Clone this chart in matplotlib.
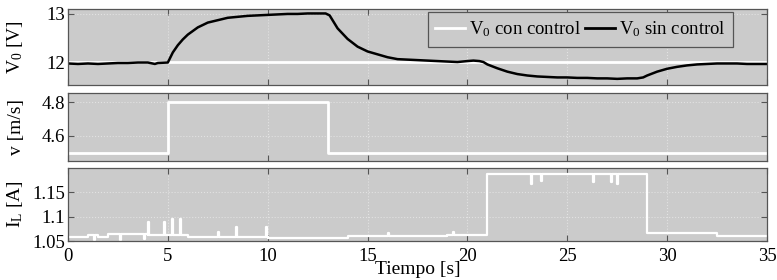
import numpy as np
import matplotlib.pyplot as plt
from matplotlib.lines import Line2D

plt.rcParams['font.family'] = ['Liberation Serif', 'DejaVu Serif']
plt.rcParams['mathtext.fontset'] = 'custom'
plt.rcParams['mathtext.rm'] = 'Liberation Serif'
plt.rcParams['mathtext.it'] = 'Liberation Serif:italic'

# V0 sin control
t_sin = [0, 0.5, 1, 1.5, 2, 2.5, 3, 3.5, 4, 4.35, 4.5, 5, 5.25, 5.5, 5.75, 6, 6.5,
         7, 7.5, 8, 8.5, 9, 9.5, 10, 10.5, 11, 11.5, 12, 12.5, 12.9, 13.1, 13.5,
         14, 14.5, 15, 15.5, 16, 16.5, 17, 17.5, 18, 18.5, 19, 19.5, 20, 20.3,
         20.6, 20.8, 21, 21.5, 22, 22.5, 23, 23.5, 24, 24.5, 25, 25.5, 26, 26.5,
         27, 27.5, 28, 28.5, 28.8, 29, 29.5, 30, 30.5, 31, 31.5, 32, 32.5, 33,
         33.5, 34, 34.5, 35]
v_sin = [11.97, 11.96, 11.97, 11.96, 11.97, 11.98, 11.98, 11.99, 11.99, 11.96,
         11.98, 11.99, 12.2, 12.35, 12.47, 12.57, 12.72, 12.82, 12.87, 12.92,
         12.94, 12.96, 12.97, 12.98, 12.99, 13.0, 13.0, 13.01, 13.01, 13.01,
         12.97, 12.7, 12.48, 12.32, 12.22, 12.16, 12.1, 12.06, 12.05, 12.04,
         12.03, 12.02, 12.01, 12.0, 12.02, 12.03, 12.02, 12.0, 11.95, 11.87,
         11.8, 11.75, 11.72, 11.7, 11.69, 11.68, 11.68, 11.67, 11.67, 11.66,
         11.66, 11.65, 11.66, 11.66, 11.68, 11.72, 11.8, 11.86, 11.9, 11.93,
         11.95, 11.96, 11.97, 11.97, 11.97, 11.96, 11.96, 11.96]
# V0 con control
t_con = [0, 35]
v_con = [12.0, 12.0]

# wind speed
t_v = [0, 5, 13, 35]
v_ms = [4.5, 4.8, 4.5, 4.5]

# load current: base levels (start times) + spikes
t_il = [0, 1, 1.5, 2, 4, 6, 10, 14, 19, 21, 29, 32.5, 35]
il_base = [1.058, 1.063, 1.058, 1.064, 1.062, 1.059, 1.057, 1.061, 1.063,
           1.187, 1.067, 1.061, 1.061]
spike_t = [1.3, 2.6, 3.8, 4.0, 4.8, 5.2, 5.6, 7.5, 8.4, 9.9, 16.0, 19.3,
           23.2, 23.7, 26.3, 27.2, 27.5]
spike_h = [1.052, 1.053, 1.055, 1.09, 1.09, 1.095, 1.096, 1.068, 1.079, 1.078,
           1.066, 1.068, 1.167, 1.174, 1.172, 1.172, 1.168]


def base_at(t):
    idx = np.searchsorted(t_il, t, side='right') - 1
    return il_base[max(idx, 0)]


# build step series with spikes
pts = sorted([(t, 'b') for t in t_il] + [(t, 's') for t in spike_t])
tt, yy = [], []
prev = None
for t, kind in pts:
    if kind == 'b':
        if prev is not None:
            tt.append(t)
            yy.append(prev)
        tt.append(t)
        yy.append(base_at(t))
        prev = base_at(t)
    else:
        b = base_at(t)
        h = spike_h[spike_t.index(t)]
        tt += [t, t, t + 0.05, t + 0.05]
        yy += [b, h, h, b]

bg = '#cbcbcb'
spine = '#555555'
fs_tick = 13.5
fs_lab = 14

fig = plt.figure(figsize=(7.77, 2.8), dpi=100)
ax1 = fig.add_axes([0.0875, 0.696, 0.8996, 0.2714])
ax2 = fig.add_axes([0.0875, 0.425, 0.8996, 0.243])
ax3 = fig.add_axes([0.0875, 0.139, 0.8996, 0.261])

for ax in (ax1, ax2, ax3):
    ax.set_facecolor(bg)
    ax.set_xlim(0, 35)
    ax.set_xticks(np.arange(0, 36, 5))
    ax.grid(True, color='#e2e2e2', ls=':', lw=0.8)
    ax.tick_params(direction='in', top=True, right=True, length=4,
                   color=spine, labelsize=fs_tick)
    ax.tick_params(axis='y', pad=2)
    ax.tick_params(axis='x', pad=5)
    for s in ax.spines.values():
        s.set_color(spine)
        s.set_linewidth(0.9)

ax1.plot(t_con, v_con, color='white', lw=2)
ax1.plot(t_sin, v_sin, color='black', lw=1.8)
ax1.set_ylim(11.52, 13.1)
ax1.set_yticks([12, 13])
ax1.set_xticklabels([])
ax1.set_ylabel('$\\mathrm{V_0}$ [V]', fontsize=fs_lab)

handles = [Line2D([], [], color='white', lw=2), Line2D([], [], color='black', lw=2)]
leg = ax1.legend(handles, ['$\\mathrm{V_0}$ con control', '$\\mathrm{V_0}$ sin control'],
                 loc='upper right', bbox_to_anchor=(0.951, 0.96), borderaxespad=0,
                 ncol=2, fancybox=False, facecolor=bg, edgecolor=spine,
                 framealpha=1, fontsize=13.5, handlelength=1.6, handletextpad=0.2,
                 columnspacing=0.2, borderpad=0.4)
leg.get_frame().set_linewidth(0.9)

ax2.plot(t_v, v_ms, color='white', lw=2, drawstyle='steps-post')
ax2.set_ylim(4.45, 4.855)
ax2.set_yticks([4.6, 4.8])
ax2.set_xticklabels([])
ax2.set_ylabel('v [m/s]', fontsize=fs_lab)

ax3.plot(tt, yy, color='white', lw=1.6)
ax3.set_ylim(1.05, 1.2)
ax3.set_yticks([1.05, 1.1, 1.15])
ax3.set_yticklabels(['1.05', '1.1', '1.15'])
ax3.set_ylabel('$\\mathrm{I_L}$ [A]', fontsize=fs_lab)
ax3.set_xlabel('Tiempo [s]', fontsize=fs_lab, labelpad=-3)

for ax in (ax1, ax2, ax3):
    ax.yaxis.set_label_coords(-0.061, 0.5)

fig.savefig('out.png', dpi=100)
